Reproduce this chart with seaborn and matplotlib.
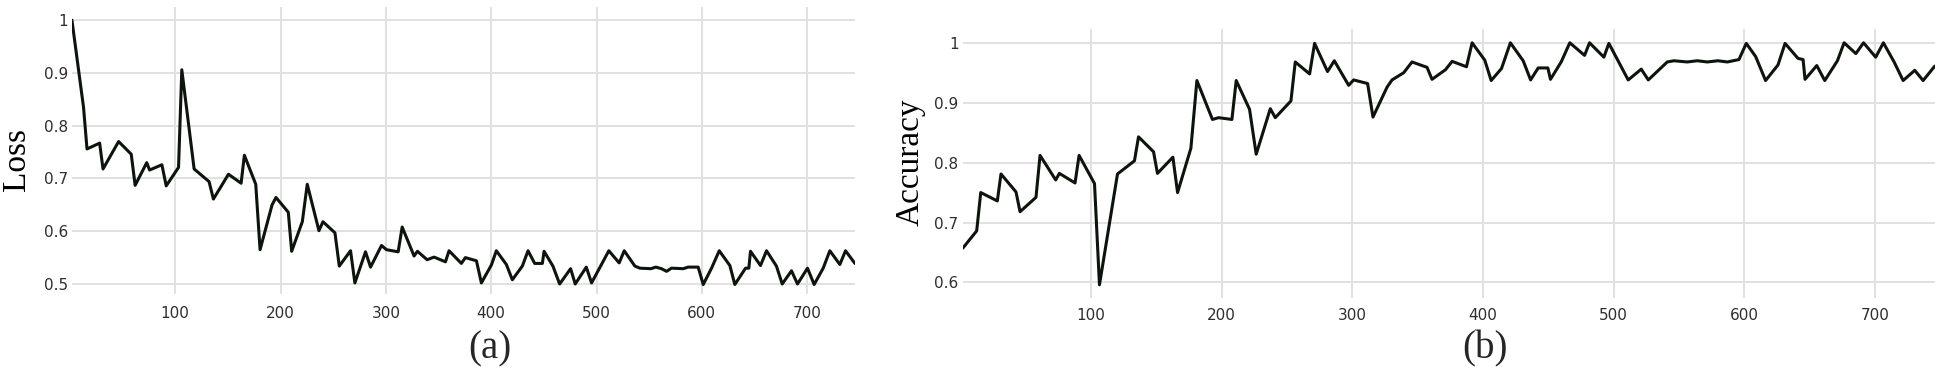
import matplotlib

matplotlib.use("Agg")

import matplotlib.pyplot as plt
import seaborn as sns


# (a) training loss
loss_epoch = [2, 13, 16.3, 28.3, 31.5, 46.3, 58.3, 62, 73, 75.7, 87.4, 91.5, 103.2, 106.3, 118,
              132.2, 136.3, 150.6, 162.6, 165.7, 176.5, 180.6, 192, 195.7, 207.4, 210.6, 220.7,
              225.4, 236.5, 240.3, 251.7, 255.8, 266.5, 270.6, 280.7, 285.5, 295.9, 300.6, 311.7,
              315.5, 326.8, 330, 339.2, 345.8, 356.6, 360, 371.7, 375.5, 386, 390.7, 400.2, 404.9,
              414.4, 420.1, 429.6, 435, 441.3, 448.6, 450.2, 458.6, 465, 475.4, 479.8, 490.3,
              495.3, 511.7, 521.5, 526.3, 536.4, 541.1, 551.6, 556.3, 561.7, 566.5, 571.2, 582.3,
              587, 596.5, 601.3, 609.2, 616.5, 626.6, 631.3, 641.5, 644.6, 646.2, 655.7, 661.4,
              670.8, 676.3, 685.1, 690.8, 700.3, 706.6, 715.2, 721.5, 731, 736.4, 745.3]
loss_value = [1.0, 0.835, 0.756, 0.767, 0.718, 0.770, 0.746, 0.687, 0.730, 0.716, 0.726, 0.686,
              0.721, 0.906, 0.718, 0.694, 0.661, 0.708, 0.691, 0.744, 0.689, 0.565, 0.650, 0.664,
              0.636, 0.562, 0.618, 0.689, 0.601, 0.618, 0.597, 0.534, 0.563, 0.502, 0.561, 0.532,
              0.573, 0.565, 0.561, 0.608, 0.553, 0.562, 0.546, 0.551, 0.542, 0.563, 0.539, 0.550,
              0.544, 0.502, 0.536, 0.563, 0.537, 0.508, 0.534, 0.563, 0.539, 0.539, 0.562, 0.534,
              0.500, 0.529, 0.500, 0.532, 0.502, 0.563, 0.540, 0.563, 0.534, 0.530, 0.529, 0.532,
              0.529, 0.524, 0.530, 0.529, 0.532, 0.532, 0.499, 0.530, 0.563, 0.535, 0.499, 0.530,
              0.530, 0.562, 0.535, 0.563, 0.534, 0.500, 0.525, 0.500, 0.530, 0.499, 0.530, 0.563,
              0.537, 0.563, 0.539]

# (b) accuracy
acc_epoch = [1.7, 12.4, 15.5, 28.2, 31, 42.5, 45.6, 57.8, 60.9, 72.9, 75.7, 87.7, 90.8, 102.6,
             106.4, 120.2, 133.2, 136.3, 147.8, 150.8, 162.6, 166.2, 176.4, 181, 192.9, 197.6,
             207.8, 211.1, 221.3, 226.4, 237.2, 241, 253, 256.3, 267.3, 271.1, 281, 286.2, 297.2,
             301, 311.7, 315.8, 326.6, 330.4, 339.3, 345.7, 357.2, 361, 371.3, 376.4, 387.4,
             391.7, 401.4, 406.3, 414.2, 421, 430.8, 436.5, 442.3, 449.7, 451.7, 459.9, 466.5,
             477.8, 481.6, 492.6, 496.4, 511.2, 521.2, 526.6, 541.1, 546.2, 556.4, 564.1, 571.8,
             579.8, 587.1, 596, 601.6, 608.8, 616.4, 625.9, 631.3, 641.2, 645.1, 646.6, 655.6,
             661.7, 671.4, 676.5, 685.5, 691.4, 700.7, 706.6, 714.8, 721.7, 730.6, 737, 745.9]
acc_value = [0.657, 0.686, 0.750, 0.736, 0.781, 0.751, 0.718, 0.742, 0.812, 0.771, 0.782, 0.766,
             0.812, 0.765, 0.596, 0.781, 0.803, 0.843, 0.818, 0.782, 0.809, 0.750, 0.824, 0.937,
             0.872, 0.875, 0.872, 0.937, 0.889, 0.814, 0.890, 0.875, 0.903, 0.968, 0.948, 0.999,
             0.952, 0.970, 0.929, 0.938, 0.932, 0.876, 0.926, 0.938, 0.950, 0.968, 0.959, 0.939,
             0.955, 0.969, 0.960, 1.0, 0.971, 0.937, 0.957, 1.0, 0.970, 0.938, 0.958, 0.958,
             0.939, 0.968, 1.0, 0.979, 1.0, 0.976, 0.999, 0.938, 0.956, 0.938, 0.968, 0.970,
             0.968, 0.970, 0.968, 0.970, 0.968, 0.972, 0.999, 0.977, 0.937, 0.963, 0.999, 0.974,
             0.972, 0.939, 0.962, 0.937, 0.970, 1.0, 0.982, 1.0, 0.976, 1.0, 0.968, 0.937, 0.954,
             0.937, 0.961]

x_ticks = [100, 200, 300, 400, 500, 600, 700]
loss_ticks = [0.5, 0.6, 0.7, 0.8, 0.9, 1.0]
loss_tick_labels = ["0.5", "0.6", "0.7", "0.8", "0.9", "1"]
acc_ticks = [0.6, 0.7, 0.8, 0.9, 1.0]
acc_tick_labels = ["0.6", "0.7", "0.8", "0.9", "1"]

LINE_COLOR = "#0c140c"
GRID_COLOR = "#e1e1e1"
TICK_COLOR = "#2e2e2e"
TICK_FONT = ["Liberation Sans Narrow", "DejaVu Sans"]
LABEL_FONT = ["Liberation Serif", "DejaVu Serif"]


def style_axis(ax, x, yticks, ylabels, ylim, xpad):
    ax.set_xlim(min(x), max(x))
    ax.set_ylim(*ylim)
    ax.set_xticks(x_ticks)
    ax.set_xticklabels([str(t) for t in x_ticks])
    ax.set_yticks(yticks)
    ax.set_yticklabels(ylabels)
    ax.grid(True, color=GRID_COLOR, linewidth=1.4)
    ax.tick_params(axis="x", length=0, pad=xpad, labelsize=11, labelcolor=TICK_COLOR)
    ax.tick_params(axis="y", length=0, pad=3, labelsize=11, labelcolor=TICK_COLOR)
    for lab in ax.get_xticklabels() + ax.get_yticklabels():
        lab.set_family(TICK_FONT)
    ax.set_xlabel("")
    sns.despine(ax=ax, left=True, bottom=True)


def main():
    sns.set_theme(style="whitegrid")
    fig = plt.figure(figsize=(19.39, 3.71), dpi=100)

    ax1 = fig.add_axes([0.0371, 0.2075, 0.4038, 0.7736])
    sns.lineplot(x=loss_epoch, y=loss_value, ax=ax1, color=LINE_COLOR, linewidth=2.2)
    style_axis(ax1, loss_epoch, loss_ticks, loss_tick_labels, (0.481, 1.025), 8.5)
    ax1.set_ylabel("Loss", family=LABEL_FONT, fontsize=24, color="black")
    ax1.yaxis.label.set_verticalalignment("center")
    ax1.yaxis.set_label_coords(-0.0702, 0.467)

    ax2 = fig.add_axes([0.4965, 0.1968, 0.5013, 0.725])
    sns.lineplot(x=acc_epoch, y=acc_value, ax=ax2, color=LINE_COLOR, linewidth=2.2)
    style_axis(ax2, acc_epoch, acc_ticks, acc_tick_labels, (0.574, 1.023), 7)
    ax2.set_ylabel("Accuracy", family=LABEL_FONT, fontsize=24, color="black")
    ax2.yaxis.label.set_verticalalignment("center")
    ax2.yaxis.set_label_coords(-0.0535, 0.5056)

    fig.text(490 / 1939, 1 - 349 / 371, "(a)", family=LABEL_FONT, fontsize=28,
             ha="center", va="center")
    fig.text(1485 / 1939, 1 - 349 / 371, "(b)", family=LABEL_FONT, fontsize=28,
             ha="center", va="center")

    fig.savefig("out.png", dpi=100)
    plt.close(fig)


if __name__ == "__main__":
    main()
